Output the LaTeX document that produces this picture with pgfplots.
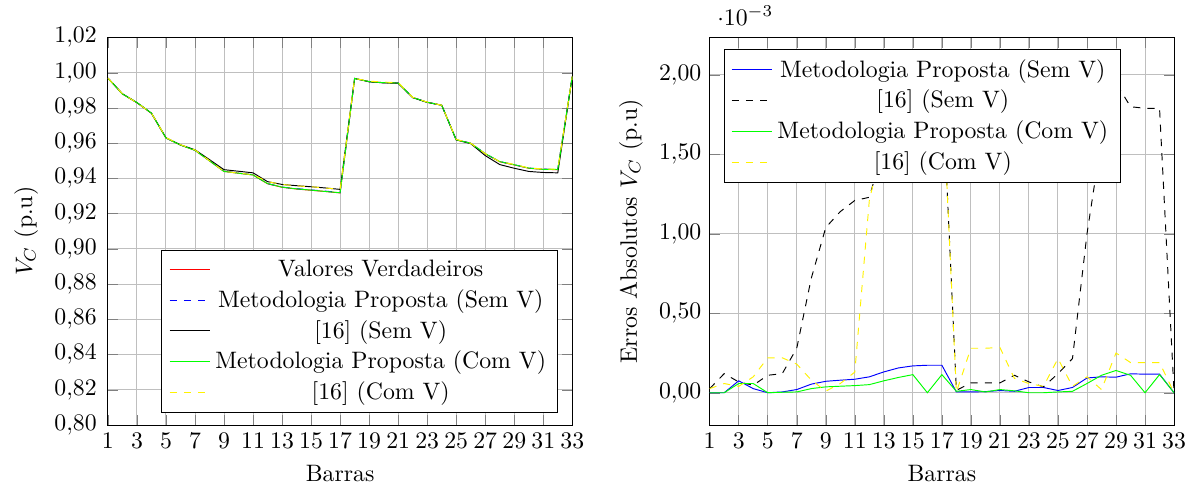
\documentclass[border=0pt]{standalone}
\usepackage{pgfplots}
\usepackage{pgfplotstable}
\pgfplotsset{compat=1.18}

\pgfplotstableread{
k  tru     mps     r16s    mpc     r16c
1  0.9970  0.9970  0.9970  0.9970  0.9970
2  0.9880  0.9880  0.9881  0.9880  0.9881
3  0.9830  0.9831  0.9831  0.9831  0.9830
4  0.9770  0.9770  0.9771  0.9771  0.9771
5  0.9630  0.9630  0.9631  0.9630  0.9632
6  0.9590  0.9590  0.9591  0.9590  0.9592
7  0.9560  0.9560  0.9563  0.9560  0.9562
8  0.9500  0.9501  0.9507  0.9500  0.9501
9  0.9440  0.9441  0.9450  0.9440  0.9440
10 0.9430  0.9431  0.9441  0.9430  0.9431
11 0.9420  0.9421  0.9432  0.9420  0.9421
12 0.9370  0.9371  0.9382  0.9371  0.9382
13 0.9350  0.9351  0.9366  0.9351  0.9366
14 0.9340  0.9342  0.9359  0.9341  0.9358
15 0.9333  0.9335  0.9353  0.9334  0.9353
16 0.9326  0.9328  0.9346  0.9326  0.9346
17 0.9318  0.9320  0.9338  0.9319  0.9338
18 0.9968  0.9968  0.9968  0.9968  0.9968
19 0.9950  0.9950  0.9949  0.9950  0.9953
20 0.9944  0.9944  0.9943  0.9944  0.9947
21 0.9942  0.9942  0.9941  0.9942  0.9945
22 0.9860  0.9860  0.9859  0.9860  0.9861
23 0.9833  0.9833  0.9832  0.9833  0.9834
24 0.9816  0.9816  0.9816  0.9816  0.9816
25 0.9620  0.9620  0.9619  0.9620  0.9622
26 0.9600  0.9600  0.9598  0.9600  0.9600
27 0.9540  0.9541  0.9530  0.9541  0.9541
28 0.9495  0.9496  0.9479  0.9496  0.9495
29 0.9477  0.9478  0.9458  0.9478  0.9480
30 0.9458  0.9459  0.9440  0.9459  0.9460
31 0.9452  0.9453  0.9434  0.9452  0.9454
32 0.9450  0.9451  0.9432  0.9451  0.9452
33 0.9980  0.9980  0.9980  0.9980  0.9980
}\tabV

\pgfplotstableread{
k  mps       r16s      mpc       r16c
1  0.000000  0.000026  0.000000  0.000026
2  0.000000  0.000120  0.000000  0.000058
3  0.000075  0.000068  0.000058  0.000040
4  0.000026  0.000047  0.000058  0.000100
5  0.000000  0.000110  0.000000  0.000220
6  0.000005  0.000120  0.000003  0.000220
7  0.000020  0.000280  0.000005  0.000180
8  0.000054  0.000720  0.000026  0.000080
9  0.000072  0.001040  0.000037  0.000010
10 0.000079  0.001140  0.000041  0.000058
11 0.000085  0.001210  0.000045  0.000130
12 0.000100  0.001230  0.000051  0.001210
13 0.000131  0.001550  0.000075  0.001600
14 0.000156  0.001850  0.000096  0.001800
15 0.000169  0.001980  0.000114  0.001950
16 0.000173  0.002030  0.000000  0.002000
17 0.000173  0.002000  0.000114  0.002000
18 0.000005  0.000015  0.000009  0.000005
19 0.000005  0.000062  0.000020  0.000280
20 0.000007  0.000062  0.000005  0.000280
21 0.000014  0.000062  0.000020  0.000285
22 0.000009  0.000110  0.000012  0.000090
23 0.000033  0.000068  0.000000  0.000058
24 0.000033  0.000037  0.000000  0.000040
25 0.000014  0.000120  0.000005  0.000215
26 0.000033  0.000215  0.000009  0.000040
27 0.000093  0.001000  0.000058  0.000100
28 0.000100  0.001600  0.000110  0.000020
29 0.000098  0.001950  0.000140  0.000250
30 0.000119  0.001800  0.000110  0.000190
31 0.000117  0.001790  0.000000  0.000190
32 0.000117  0.001790  0.000114  0.000190
33 0.000000  0.000000  0.000000  0.000000
}\tabE

\pgfplotsset{
  ynumfmt/.style={yticklabel style={
    /pgf/number format/fixed,
    /pgf/number format/fixed zerofill,
    /pgf/number format/precision=2,
    /pgf/number format/use comma}},
}

\begin{document}
\begin{tikzpicture}
\begin{axis}[
  scale only axis,
  width=195.4pt, height=163pt,
  xmin=1, xmax=33, ymin=0.80, ymax=1.02,
  xtick={1,3,...,33},
  ytick={0.80,0.82,...,1.021},
  grid=major,
  ynumfmt,
  yticklabel style={xshift=-1.2pt},
  xlabel={Barras},
  ylabel={$V_C$ (p.u)},
  legend pos=south east,
  legend cell align=center,
]
\addplot[red] table[x=k,y=tru] {\tabV};
\addlegendentry{Valores Verdadeiros}
\addplot[blue, dashed] table[x=k,y=mps] {\tabV};
\addlegendentry{Metodologia Proposta (Sem V)}
\addplot[black] table[x=k,y=r16s] {\tabV};
\addlegendentry{[16] (Sem V)}
\addplot[green] table[x=k,y=mpc] {\tabV};
\addlegendentry{Metodologia Proposta (Com V)}
\addplot[yellow, dashed] table[x=k,y=r16c] {\tabV};
\addlegendentry{[16] (Com V)}
\end{axis}

\begin{axis}[
  xshift=253.2pt,
  scale only axis,
  width=195.4pt, height=163pt,
  xmin=1, xmax=33, ymin=-0.000203, ymax=0.002235,
  xtick={1,3,...,33},
  ytick={0,0.0005,0.001,0.0015,0.002},
  grid=major,
  ynumfmt,
  xlabel={Barras},
  ylabel={Erros Absolutos $V_C$ (p.u)},
  legend pos=north west,
  legend cell align=center,
]
\addplot[blue] table[x=k,y=mps] {\tabE};
\addlegendentry{Metodologia Proposta (Sem V)}
\addplot[black, dashed] table[x=k,y=r16s] {\tabE};
\addlegendentry{[16] (Sem V)}
\addplot[green] table[x=k,y=mpc] {\tabE};
\addlegendentry{Metodologia Proposta (Com V)}
\addplot[yellow, dashed] table[x=k,y=r16c] {\tabE};
\addlegendentry{[16] (Com V)}
\end{axis}
\path ([shift={(-2.7pt,2.6pt)}]current bounding box.north west);
\path ([shift={(0.9pt,-0.5pt)}]current bounding box.south east);
\end{tikzpicture}
\end{document}
